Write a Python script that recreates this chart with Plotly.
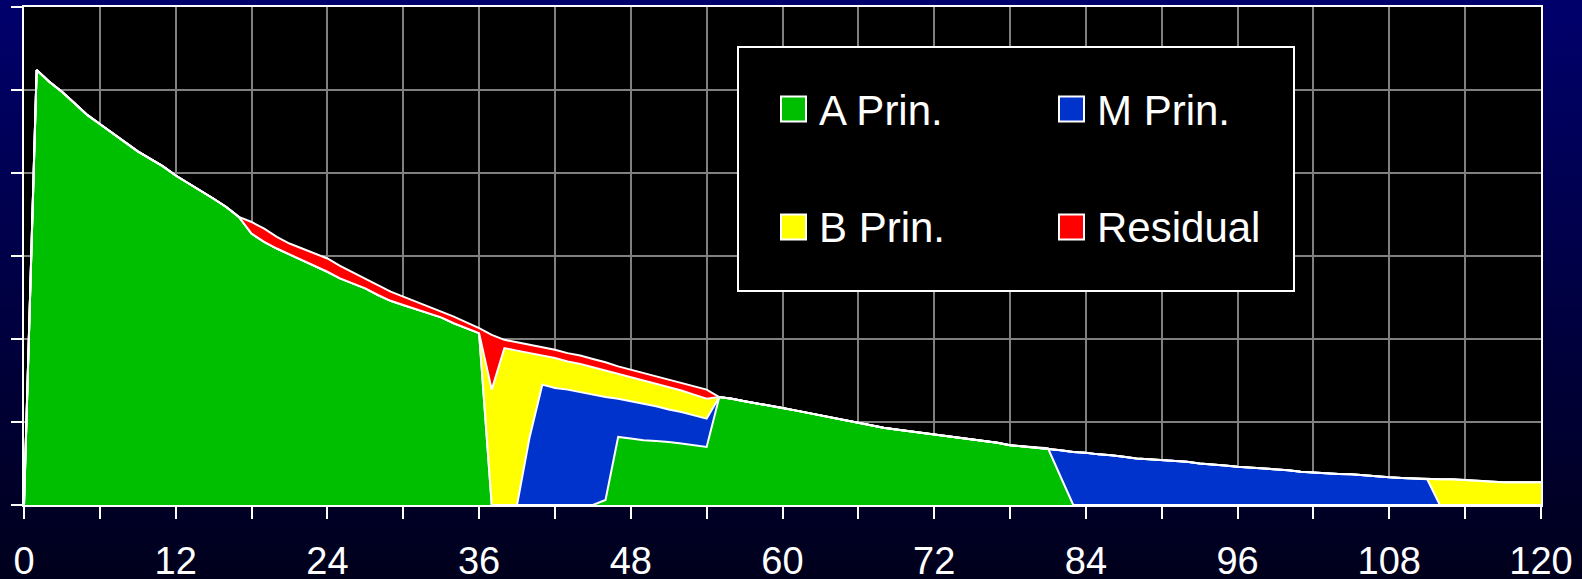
import base64
import plotly.graph_objects as go

# ---------------- data (months 0..120) ----------------
months = list(range(0, 121))

a_prin = [0, 5.24, 5.10, 4.98, 4.84, 4.70, 4.59, 4.48, 4.37, 4.26, 4.17,
          4.08, 3.97, 3.88, 3.79, 3.69, 3.59, 3.47, 3.27, 3.17, 3.09,
          3.02, 2.95, 2.88, 2.81, 2.73, 2.67, 2.61, 2.53, 2.46, 2.41,
          2.36, 2.31, 2.26, 2.19, 2.13, 2.07, 0, 0, 0, 0,
          0, 0, 0, 0, 0, 0.06, 0.82, 0.80, 0.78, 0.77,
          0.76, 0.74, 0.72, 0.70, 1.30, 1.28, 1.25, 1.225, 1.20, 1.17,
          1.14, 1.11, 1.08, 1.05, 1.02, 0.99, 0.96, 0.93, 0.91, 0.89,
          0.87, 0.85, 0.83, 0.81, 0.79, 0.77, 0.75, 0.72, 0.705, 0.695,
          0.683, 0.34, 0, 0, 0, 0, 0, 0, 0, 0,
          0, 0, 0, 0, 0, 0, 0, 0, 0, 0,
          0, 0, 0, 0, 0, 0, 0, 0, 0, 0,
          0, 0, 0, 0, 0, 0, 0, 0, 0, 0]

m_prin = [0, 0, 0, 0, 0, 0, 0, 0, 0, 0, 0,
          0, 0, 0, 0, 0, 0, 0, 0, 0, 0,
          0, 0, 0, 0, 0, 0, 0, 0, 0, 0,
          0, 0, 0, 0, 0, 0, 0, 0, 0, 0.82,
          1.45, 1.41, 1.39, 1.36, 1.33, 1.24, 0.46, 0.45, 0.44, 0.42,
          0.39, 0.38, 0.36, 0.34, 0, 0, 0, 0, 0, 0,
          0, 0, 0, 0, 0, 0, 0, 0, 0, 0,
          0, 0, 0, 0, 0, 0, 0, 0, 0, 0,
          0, 0.32, 0.64, 0.63, 0.61, 0.60, 0.58, 0.56, 0.55, 0.54,
          0.535, 0.52, 0.50, 0.49, 0.475, 0.46, 0.45, 0.44, 0.43, 0.42,
          0.40, 0.39, 0.38, 0.375, 0.37, 0.355, 0.345, 0.333, 0.325, 0.32,
          0.31, 0, 0, 0, 0, 0, 0, 0, 0, 0]

b_prin = [0, 0, 0, 0, 0, 0, 0, 0, 0, 0, 0,
          0, 0, 0, 0, 0, 0, 0, 0, 0, 0,
          0, 0, 0, 0, 0, 0, 0, 0, 0, 0,
          0, 0, 0, 0, 0, 0, 1.39, 1.89, 1.86, 1.01,
          0.35, 0.36, 0.34, 0.34, 0.33, 0.32, 0.30, 0.29, 0.28, 0.27,
          0.27, 0.26, 0.25, 0.24, 0, 0, 0, 0, 0, 0,
          0, 0, 0, 0, 0, 0, 0, 0, 0, 0,
          0, 0, 0, 0, 0, 0, 0, 0, 0, 0,
          0, 0, 0, 0, 0, 0, 0, 0, 0, 0,
          0, 0, 0, 0, 0, 0, 0, 0, 0, 0,
          0, 0, 0, 0, 0, 0, 0, 0, 0, 0,
          0, 0.31, 0.31, 0.30, 0.29, 0.28, 0.273, 0.273, 0.273, 0.273]

residual = [0, 0, 0, 0, 0, 0, 0, 0, 0, 0, 0,
            0, 0, 0, 0, 0, 0, 0, 0.14, 0.16, 0.14,
            0.13, 0.14, 0.15, 0.16, 0.15, 0.13, 0.12, 0.12, 0.11, 0.10,
            0.09, 0.08, 0.07, 0.08, 0.07, 0.06, 0.66, 0.10, 0.10, 0.10,
            0.10, 0.10, 0.10, 0.10, 0.10, 0.10, 0.09, 0.09, 0.09, 0.09,
            0.09, 0.09, 0.10, 0.11, 0, 0, 0, 0, 0, 0,
            0, 0, 0, 0, 0, 0, 0, 0, 0, 0,
            0, 0, 0, 0, 0, 0, 0, 0, 0, 0,
            0, 0, 0, 0, 0, 0, 0, 0, 0, 0,
            0, 0, 0, 0, 0, 0, 0, 0, 0, 0,
            0, 0, 0, 0, 0, 0, 0, 0, 0, 0,
            0, 0, 0, 0, 0, 0, 0, 0, 0, 0]

series_names = ["A Prin.", "M Prin.", "B Prin.", "Residual"]
series_colors = ["#00BF00", "#0033CC", "#FFFF00", "#FF0000"]
x_tick_values = [0, 6, 12, 18, 24, 30, 36, 42, 48, 54, 60, 66, 72, 78, 84, 90, 96, 102, 108, 114, 120]
x_tick_labels = ["0", "", "12", "", "24", "", "36", "", "48", "", "60", "", "72", "", "84", "", "96", "", "108", "", "120"]

for s in (a_prin, m_prin, b_prin, residual):
    assert len(s) == len(months)

# ---------------- figure ----------------
W, H = 1582, 579
ML, MR, MT, MB = 24, 41, 7, 74
PW, PH = W - ML - MR, H - MT - MB
FONT = "Arial, 'Liberation Sans', sans-serif"

fig = go.Figure()
for name, vals, col in zip(series_names, (a_prin, m_prin, b_prin, residual), series_colors):
    fig.add_trace(go.Scatter(
        x=months, y=vals, name=name, mode="lines", stackgroup="one",
        line=dict(color="white", width=2), fillcolor=col, showlegend=False,
    ))

# gradient background (blue to dark) with black plot rectangle
svg = (f'<svg xmlns="http://www.w3.org/2000/svg" width="{W}" height="{H}" viewBox="0 0 {W} {H}" preserveAspectRatio="none">'
       '<defs><linearGradient id="g" x1="0" y1="0" x2="0" y2="1">'
       '<stop offset="0" stop-color="#00006C"/><stop offset="1" stop-color="#00001C"/></linearGradient></defs>'
       f'<rect x="0" y="0" width="{W}" height="{H}" fill="url(#g)"/>'
       f'<rect x="{ML}" y="{MT}" width="{PW}" height="{PH}" fill="#000000"/></svg>')
src = "data:image/svg+xml;base64," + base64.b64encode(svg.encode()).decode()
fig.add_layout_image(dict(source=src, xref="paper", yref="paper",
                          x=-ML / PW, y=1 + MT / PH, sizex=W / PW, sizey=H / PH,
                          xanchor="left", yanchor="top", sizing="stretch", layer="below"))


def px(xp):
    return (xp - ML) / PW


def py(yp):
    return (H - MB - yp) / PH


shapes = []
# legend box
shapes.append(dict(type="rect", xref="paper", yref="paper", x0=px(738), x1=px(1294), y0=py(291), y1=py(47),
                   fillcolor="black", line=dict(color="white", width=2), layer="above"))
legend_pos = [(781, 109), (1059, 109), (781, 227), (1059, 227)]
annotations = []
for (lx, ly), name, col in zip(legend_pos, series_names, series_colors):
    shapes.append(dict(type="rect", xref="paper", yref="paper", x0=px(lx), x1=px(lx + 25),
                       y0=py(ly + 12.5), y1=py(ly - 12.5), fillcolor=col,
                       line=dict(color="white", width=2), layer="above"))
    annotations.append(dict(text=name, xref="paper", yref="paper", x=px(lx + 36), y=py(ly + 1),
                            xanchor="left", yanchor="middle", showarrow=False,
                            font=dict(family=FONT, size=42, color="white")))

fig.update_layout(
    width=W, height=H, autosize=False,
    margin=dict(l=ML, r=MR, t=MT, b=MB, pad=0, autoexpand=False),
    paper_bgcolor="#000030", plot_bgcolor="black",
    font=dict(family=FONT, color="white"),
    showlegend=False, shapes=shapes, annotations=annotations,
    hovermode=False,
)
fig.update_xaxes(range=[0, 120], tickmode="array", tickvals=x_tick_values, ticktext=x_tick_labels,
                 ticks="outside", ticklen=12, tickwidth=2, tickcolor="white",
                 tickfont=dict(family=FONT, size=38, color="white"), ticklabelstandoff=9,
                 showgrid=True, gridcolor="#808080", gridwidth=2, automargin=False,
                 showline=True, linecolor="white", linewidth=2, mirror=True, zeroline=False)
fig.update_yaxes(range=[0, 6], dtick=1, tick0=0, ticks="outside", ticklen=11, tickwidth=2,
                 tickcolor="white", showticklabels=False, automargin=False,
                 showgrid=True, gridcolor="#808080", gridwidth=2,
                 showline=True, linecolor="white", linewidth=2, mirror=True, zeroline=False)

fig.write_html("out.html", config={"displayModeBar": False, "staticPlot": True},
               post_script="document.body.style.margin='0px';document.body.style.overflow='hidden';")
